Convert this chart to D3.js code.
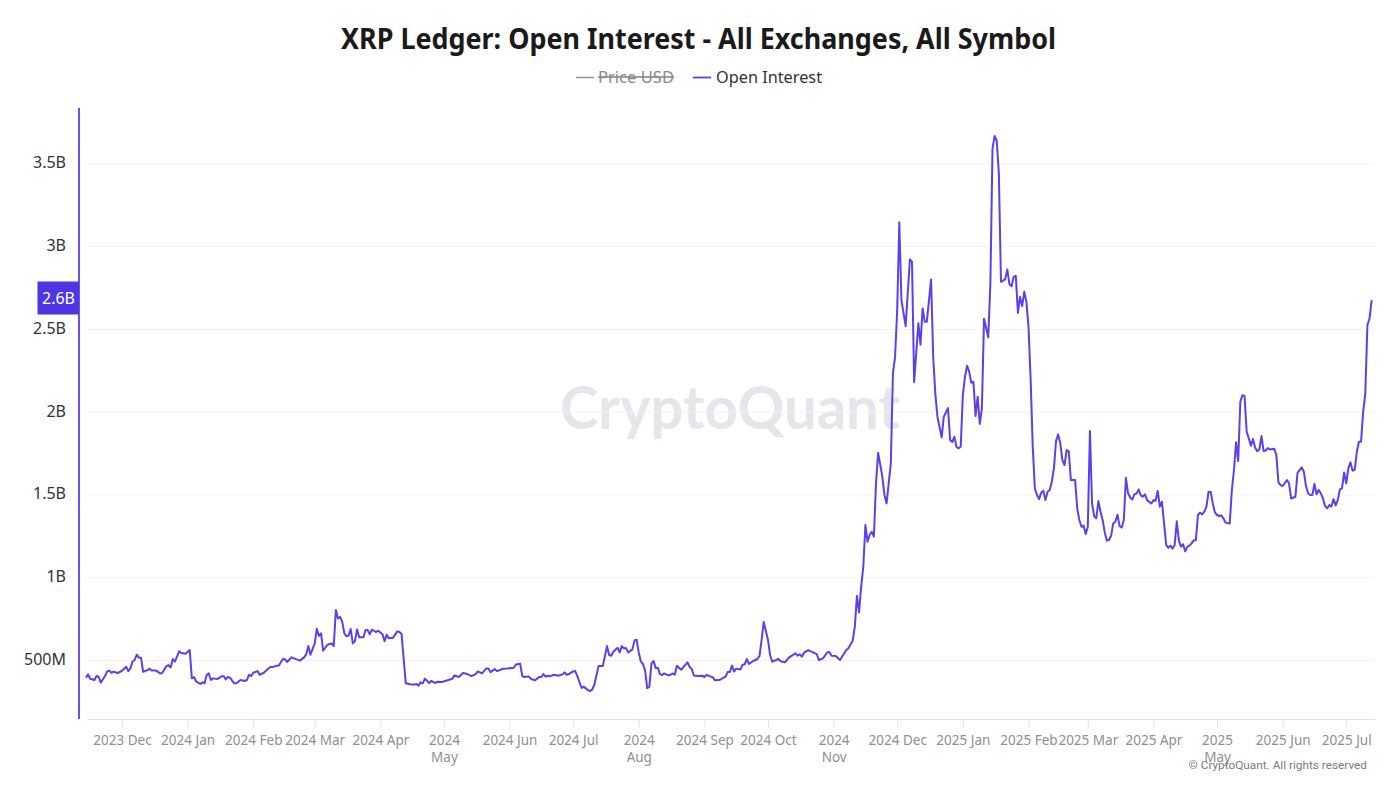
<!DOCTYPE html>
<html><head><meta charset="utf-8">
<script src="https://d3js.org/d3.v7.min.js"></script>
<style>html,body{margin:0;padding:0;background:#fff}svg{display:block}text{font-family:"Noto Sans",sans-serif}</style>
</head><body><svg id="c" width="1395" height="786"></svg>
<script>
const chartTitle = "XRP Ledger: Open Interest - All Exchanges, All Symbol";
const legendLabels = ["Price USD", "Open Interest"];
const startDate = "2023-12-01";
const monthTicks = ["2023-12-01","2024-01-01","2024-02-01","2024-03-01","2024-04-01","2024-05-01","2024-06-01","2024-07-01","2024-08-01","2024-09-01","2024-10-01","2024-11-01","2024-12-01","2025-01-01","2025-02-01","2025-03-01","2025-04-01","2025-05-01","2025-06-01","2025-07-01"];
const monthLabels = ["2023 Dec","2024 Jan","2024 Feb","2024 Mar","2024 Apr","2024 May","2024 Jun","2024 Jul","2024 Aug","2024 Sep","2024 Oct","2024 Nov","2024 Dec","2025 Jan","2025 Feb","2025 Mar","2025 Apr","2025 May","2025 Jun","2025 Jul"];
const wrappedLabels = ["2024 May","2024 Aug","2024 Nov","2025 May"];
const valueTicks = [500,1000,1500,2000,2500,3000,3500];
const valueTickLabels = ["500M","1B","1.5B","2B","2.5B","3B","3.5B"];
const latestValue = 2690, latestLabel = "2.6B";
// days since startDate
const dayOffsets = [
-17,-16,-15,-13,-12,-11,-10,-8,-7,-6,-5,-4,-2,0,2,3,4,5,6,7,
8,9,10,12,13,14,16,18,19,21,22,23,24,25,27,28,30,32,33,34,
35,37,38,39,40,41,42,43,45,47,48,49,50,51,53,54,56,58,59,60,
61,62,64,65,67,69,70,71,73,74,76,77,78,80,84,86,87,88,89,91,
92,93,94,95,97,99,100,101,102,103,104,105,106,107,108,109,110,111,112,114,
115,116,117,118,120,121,123,124,125,126,128,130,131,132,134,136,138,139,140,141,
142,143,144,145,146,148,149,151,153,156,157,159,161,163,165,167,168,170,172,173,
174,176,177,180,182,185,186,188,189,190,192,193,195,197,198,199,200,201,202,204,
206,208,209,210,211,213,214,215,217,218,220,221,222,223,225,227,229,230,231,232,
234,235,236,237,238,239,241,242,243,244,245,246,247,248,249,250,251,252,253,254,
255,256,258,259,260,261,262,263,264,267,268,269,270,272,274,275,276,279,280,282,
285,286,287,288,289,290,292,293,294,295,296,298,300,301,302,303,305,306,307,310,
311,313,315,318,319,320,321,322,324,328,329,331,333,334,335,337,339,342,343,345,
346,347,348,349,350,351,352,353,354,355,356,357,359,360,361,363,364,365,366,367,
368,370,372,373,374,376,377,378,379,380,382,383,384,385,387,388,390,391,392,393,
394,395,396,397,398,399,400,401,402,403,404,405,406,407,409,410,411,412,413,414,
415,416,417,418,419,420,421,422,423,424,425,426,427,428,429,430,431,432,433,434,
435,436,437,438,439,440,441,442,443,444,445,446,447,448,450,451,452,453,454,455,
456,457,458,459,460,461,462,463,464,465,466,467,468,469,470,471,472,473,474,475,
476,477,478,479,480,481,482,483,484,486,487,488,489,490,491,492,493,494,495,496,
497,498,499,500,501,502,503,504,505,506,507,508,509,510,511,512,513,514,515,516,
517,518,519,520,521,523,524,525,526,527,528,529,530,531,532,533,534,535,536,537,
538,539,540,541,542,544,545,546,547,548,550,551,552,554,555,557,558,559,560,561,
562,563,564,565,566,567,568,569,570,571,572,573,574,575,576,577,578,579,580,581,
582,583,584,585,586,587,588,589,590];
// open interest, millions of USD
const openInterestM = [
396,416,390,382,406,402,366,406,434,438,426,432,424,438,462,436,452,494,503,535,
517,517,432,442,450,440,440,422,424,466,472,458,509,493,555,545,541,563,392,400,
374,358,368,362,412,422,382,392,388,404,406,386,400,396,362,362,382,376,382,414,
406,426,436,414,426,450,460,460,468,468,509,507,491,519,499,519,537,587,535,603,
692,648,664,559,595,603,587,805,754,764,734,664,646,650,690,603,617,688,640,640,
684,684,658,686,672,680,658,617,656,634,638,676,672,660,362,356,354,358,348,368,
362,390,378,364,376,364,372,370,378,390,410,400,424,418,406,418,434,422,452,452,
430,448,436,450,452,456,476,480,406,400,404,390,380,400,400,418,402,408,404,414,
408,416,428,414,418,434,436,406,334,342,321,315,325,352,466,466,587,533,529,553,
577,549,587,573,575,549,567,623,625,547,493,479,438,332,342,483,497,454,456,418,
412,422,410,414,422,414,468,456,444,489,462,448,410,406,408,400,412,398,380,382,
403,431,431,469,433,451,445,473,477,509,479,497,509,527,624,733,624,533,493,509,
495,489,519,543,529,537,523,547,563,539,503,513,549,551,529,527,503,563,574,620,
705,890,791,946,1067,1319,1218,1258,1278,1248,1570,1755,1610,1500,1449,1691,2235,2335,2617,3147,
2677,2520,2923,2909,2182,2537,2408,2627,2547,2547,2802,2335,2114,1973,1848,1973,2025,1832,1820,1852,
1790,1782,1792,2104,2214,2281,2245,2178,2184,1977,2094,1929,2023,2565,2452,2778,3593,3669,3639,3442,
2788,2794,2804,2862,2774,2761,2818,2824,2600,2697,2641,2728,2667,2516,2200,1791,1540,1500,1475,1514,
1526,1469,1520,1530,1580,1661,1826,1866,1812,1711,1681,1771,1763,1590,1590,1419,1349,1308,1314,1264,
1308,1886,1449,1373,1359,1463,1399,1349,1274,1224,1228,1254,1328,1338,1381,1312,1304,1349,1604,1510,
1485,1473,1504,1508,1534,1498,1490,1504,1469,1449,1469,1465,1524,1429,1459,1328,1198,1181,1194,1176,
1198,1341,1224,1188,1202,1159,1188,1194,1208,1226,1226,1379,1393,1383,1399,1429,1518,1520,1449,1395,
1379,1373,1377,1359,1333,1328,1530,1651,1818,1705,2063,2103,2097,1882,1842,1798,1838,1785,1765,1775,
1856,1765,1769,1783,1775,1779,1741,1576,1560,1554,1590,1570,1479,1489,1634,1667,1640,1554,1510,1500,
1500,1566,1504,1530,1510,1479,1433,1419,1439,1429,1475,1437,1469,1534,1540,1636,1570,1661,1697,1647,
1651,1761,1822,1822,2003,2114,2526,2566,2677];

const INK="#1a1a1a", PURPLE="#5a41ea";
const parse=d3.utcParse("%Y-%m-%d");
const base=parse(startDate);
const rows=d3.zip(dayOffsets,openInterestM).map(([d,v])=>({date:d3.utcDay.offset(base,d),v}));
const L=87,R=1375,T=108,B=719;
const x=d3.scaleUtc().domain([d3.utcHour.offset(base,-16.5*24),d3.utcHour.offset(base,591.6*24)]).range([L,R]);
const y=d3.scaleLinear().domain([146.5,3838]).range([B,T]);
const svg=d3.select("#c");

// title
svg.append("text").attr("x",698.5).attr("y",48.5).attr("text-anchor","middle")
  .attr("font-size",28).attr("font-weight",700).attr("fill",INK)
  .attr("textLength",715).attr("lengthAdjust","spacingAndGlyphs").text(chartTitle);

// legend
const lg=svg.append("g");
lg.append("line").attr("x1",576).attr("x2",594).attr("y1",77.5).attr("y2",77.5).attr("stroke","#9a9a9a").attr("stroke-width",1.6);
lg.append("text").attr("x",598).attr("y",83).attr("font-size",16.5).attr("fill","#8a8a8a").attr("text-decoration","line-through").attr("textLength",76).attr("lengthAdjust","spacingAndGlyphs").text(legendLabels[0]);
lg.append("line").attr("x1",693).attr("x2",711).attr("y1",77.5).attr("y2",77.5).attr("stroke",PURPLE).attr("stroke-width",1.8);
lg.append("text").attr("x",716).attr("y",83).attr("font-size",16.5).attr("fill","#333").attr("textLength",106).attr("lengthAdjust","spacingAndGlyphs").text(legendLabels[1]);

// watermark
svg.append("text").attr("x",730).attr("y",429).attr("text-anchor","middle").attr("font-size",59).attr("font-weight",700)
  .attr("fill","#e5e5eb").attr("textLength",340).attr("lengthAdjust","spacingAndGlyphs")
  .style("font-family","Lato, 'Noto Sans', sans-serif").text("CryptoQuant");

// grid + y axis
const yAxis=d3.axisLeft(y).tickValues(valueTicks).tickFormat((d,i)=>valueTickLabels[i]).tickSize(0).tickPadding(0);
const gy=svg.append("g").attr("transform",`translate(66,0)`).call(yAxis);
gy.select(".domain").remove();
gy.selectAll("text").attr("font-size",16).attr("fill","#333").attr("dy","0.24em").style("font-family",'"Noto Sans",sans-serif');
svg.append("g").selectAll("line").data(valueTicks).join("line")
  .attr("x1",L).attr("x2",R).attr("y1",d=>y(d)).attr("y2",d=>y(d)).attr("stroke","#f3f3f5").attr("stroke-width",1);
svg.append("line").attr("x1",79).attr("x2",79).attr("y1",T).attr("y2",B).attr("stroke",PURPLE).attr("stroke-width",1.8);

// x axis
const xAxis=d3.axisBottom(x).tickValues(monthTicks.map(parse)).tickFormat((d,i)=>monthLabels[i]).tickSize(8).tickSizeOuter(0).tickPadding(8);
const gx=svg.append("g").attr("transform",`translate(0,${B})`).call(xAxis);
gx.select(".domain").attr("stroke","#e2e2ea").attr("stroke-width",1.2);
gx.selectAll(".tick line").attr("stroke","#e2e2ea");
gx.selectAll(".tick text").attr("font-size",13.5).attr("fill","#8e8e99").style("font-family",'"Noto Sans",sans-serif').each(function(d,i){
  const label=monthLabels[i];
  if(wrappedLabels.includes(label)){
    const t=d3.select(this),parts=label.split(" "),yy=t.attr("y");
    t.text(null);
    t.append("tspan").attr("x",0).attr("y",yy).attr("dy","0.71em").text(parts[0]);
    t.append("tspan").attr("x",0).attr("y",yy).attr("dy","1.98em").text(parts[1]);
  }
});

// series
svg.append("path").datum(rows).attr("fill","none").attr("stroke",PURPLE).attr("stroke-width",2).attr("stroke-linejoin","round")
  .attr("d",d3.line().x(d=>x(d.date)).y(d=>y(d.v)));

// latest value flag
svg.append("rect").attr("x",37.5).attr("y",y(latestValue)-16.5).attr("width",41.5).attr("height",33).attr("fill","#4c35e2");
svg.append("text").attr("x",58.5).attr("y",y(latestValue)+5.5).attr("text-anchor","middle").attr("font-size",16).attr("fill","#fff").text(latestLabel);

// copyright
svg.append("text").attr("x",1367).attr("y",769).attr("text-anchor","end").attr("font-size",11.8).attr("fill","#7a7a82")
  .style("font-family","Roboto, sans-serif").text("© CryptoQuant. All rights reserved");
</script></body></html>
